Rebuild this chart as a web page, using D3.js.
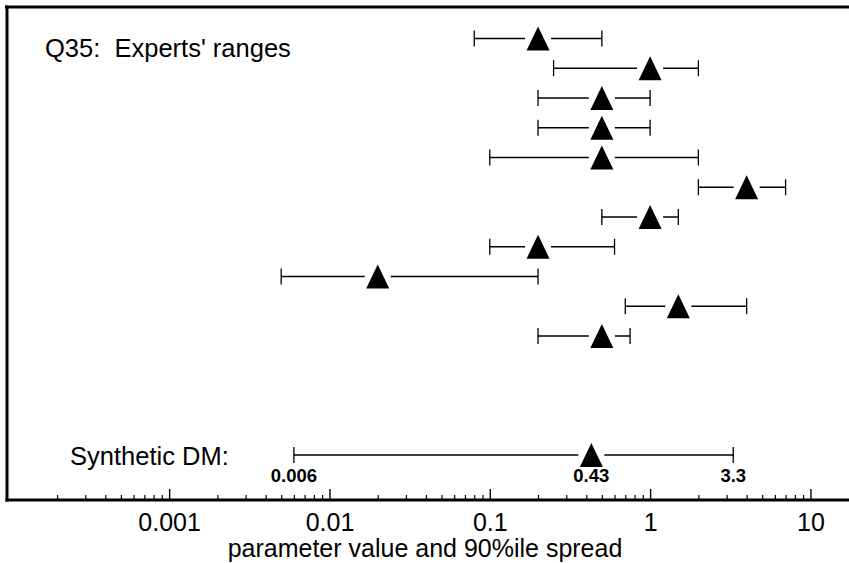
<!DOCTYPE html>
<html>
<head>
<meta charset="utf-8">
<script src="https://cdn.jsdelivr.net/npm/d3@7"></script>
<style>
    body { margin: 0; background: #fff; }
    svg { display: block; font-family: "Liberation Sans", Arial, sans-serif; }
</style>
</head>
<body>
<svg width="849" height="563"></svg>
<script>
//Data
const expertLow    = [0.08, 0.25, 0.2, 0.2, 0.1, 2, 0.5, 0.1, 0.005, 0.7, 0.2];
const expertMedian = [0.2, 1, 0.5, 0.5, 0.5, 4, 1, 0.2, 0.02, 1.5, 0.5];
const expertHigh   = [0.5, 2, 1, 1, 2, 7, 1.5, 0.6, 0.2, 4, 0.75];
const dmLow = 0.006, dmMedian = 0.43, dmHigh = 3.3;
const dmLabels = ["0.006", "0.43", "3.3"];
const majorTicks = [0.001, 0.01, 0.1, 1, 10];
const tickLabels = ["0.001", "0.01", "0.1", "1", "10"];

buildGraph();

function buildGraph()
{
    const svg_width = 849;
    const axis_y = 500;
    let svg = d3.select("svg");

    //Scales
    let xscale = d3.scaleLog().domain([0.0001, 17.4]).range([8.8, 849]);
    let yscale = d3.scaleLinear().domain([0, 14]).range([38.5, 455]);

    //Minor ticks 2..9 of every decade
    let minorTicks = [];
    for (let e = -4; e <= 1; e++) {
        for (let k = 2; k <= 9; k++) {
            let v = k * Math.pow(10, e);
            if (xscale(v) < svg_width) minorTicks.push(v);
        }
    }

    //Frame
    svg.append("line").attr("x1", 5).attr("x2", svg_width).attr("y1", 7).attr("y2", 7)
        .attr("stroke", "black").attr("stroke-width", 3);
    svg.append("line").attr("x1", 7).attr("x2", 7).attr("y1", 5.5).attr("y2", axis_y + 1.5)
        .attr("stroke", "black").attr("stroke-width", 3);

    //Axes
    let minorAxis = d3.axisBottom(xscale).tickValues(minorTicks).tickSizeInner(-5).tickSizeOuter(0).tickFormat("");
    let majorAxis = d3.axisBottom(xscale).tickValues(majorTicks).tickSizeInner(-11).tickSizeOuter(0)
        .tickPadding(13).tickFormat((d, i) => tickLabels[i]);

    let gMinor = svg.append("g").attr("transform", `translate(0, ${axis_y})`).call(minorAxis);
    gMinor.select(".domain").remove();
    gMinor.selectAll("line").attr("stroke-width", 1.2);

    let gMajor = svg.append("g").attr("transform", `translate(0, ${axis_y})`).call(majorAxis);
    gMajor.select(".domain").remove();
    gMajor.selectAll("line").attr("stroke-width", 1.4);
    gMajor.selectAll("text")
        .attr("font-size", 25)
        .attr("font-family", "Liberation Sans, Arial")
        .attr("fill", "black");

    svg.append("line").attr("x1", 5.5).attr("x2", svg_width).attr("y1", axis_y).attr("y2", axis_y)
        .attr("stroke", "black").attr("stroke-width", 3.2);

    //Labels
    svg.append("text")
        .attr("x", 45).attr("y", 57)
        .attr("font-size", 25.5)
        .style("white-space", "pre")
        .text("Q35:  Experts' ranges");

    svg.append("text")
        .attr("x", 70).attr("y", 465)
        .attr("font-size", 25.5)
        .text("Synthetic DM:");

    svg.append("text")
        .attr("x", 425).attr("y", 557)
        .attr("text-anchor", "middle")
        .attr("font-size", 25)
        .text("parameter value and 90%ile spread");

    //Range bars
    let rows = expertMedian.map((m, i) => ({ row: i, lo: expertLow[i], med: m, hi: expertHigh[i] }));
    rows.push({ row: 14, lo: dmLow, med: dmMedian, hi: dmHigh, dm: true });

    let g = svg.append("g");
    let bar = g.selectAll("g.bar").data(rows).enter().append("g").attr("class", "bar");

    bar.append("line")
        .attr("x1", d => xscale(d.lo)).attr("x2", d => xscale(d.hi))
        .attr("y1", d => yscale(d.row)).attr("y2", d => yscale(d.row))
        .attr("stroke", "black").attr("stroke-width", 1.3);

    ["lo", "hi"].forEach(key => {
        bar.append("line")
            .attr("x1", d => xscale(d[key])).attr("x2", d => xscale(d[key]))
            .attr("y1", d => yscale(d.row) - 8).attr("y2", d => yscale(d.row) + 8)
            .attr("stroke", "black").attr("stroke-width", 1.3);
    });

    //White gap round the triangle
    bar.append("rect")
        .attr("x", d => xscale(d.med) - 13).attr("y", d => yscale(d.row) - 3)
        .attr("width", 26).attr("height", 6)
        .attr("fill", "white");

    bar.append("path")
        .attr("d", d => {
            let cx = xscale(d.med), cy = yscale(d.row);
            return `M${cx},${cy - 12}L${cx + 11.5},${cy + 12}L${cx - 11.5},${cy + 12}Z`;
        })
        .attr("fill", "black");

    //DM value labels
    g.selectAll("text.dm")
        .data([dmLow, dmMedian, dmHigh])
        .enter().append("text")
        .attr("class", "dm")
        .attr("x", d => xscale(d))
        .attr("y", yscale(14) + 27)
        .attr("text-anchor", "middle")
        .attr("font-size", 18.5)
        .attr("font-weight", "bold")
        .text((d, i) => dmLabels[i]);
}
</script>
</body>
</html>
